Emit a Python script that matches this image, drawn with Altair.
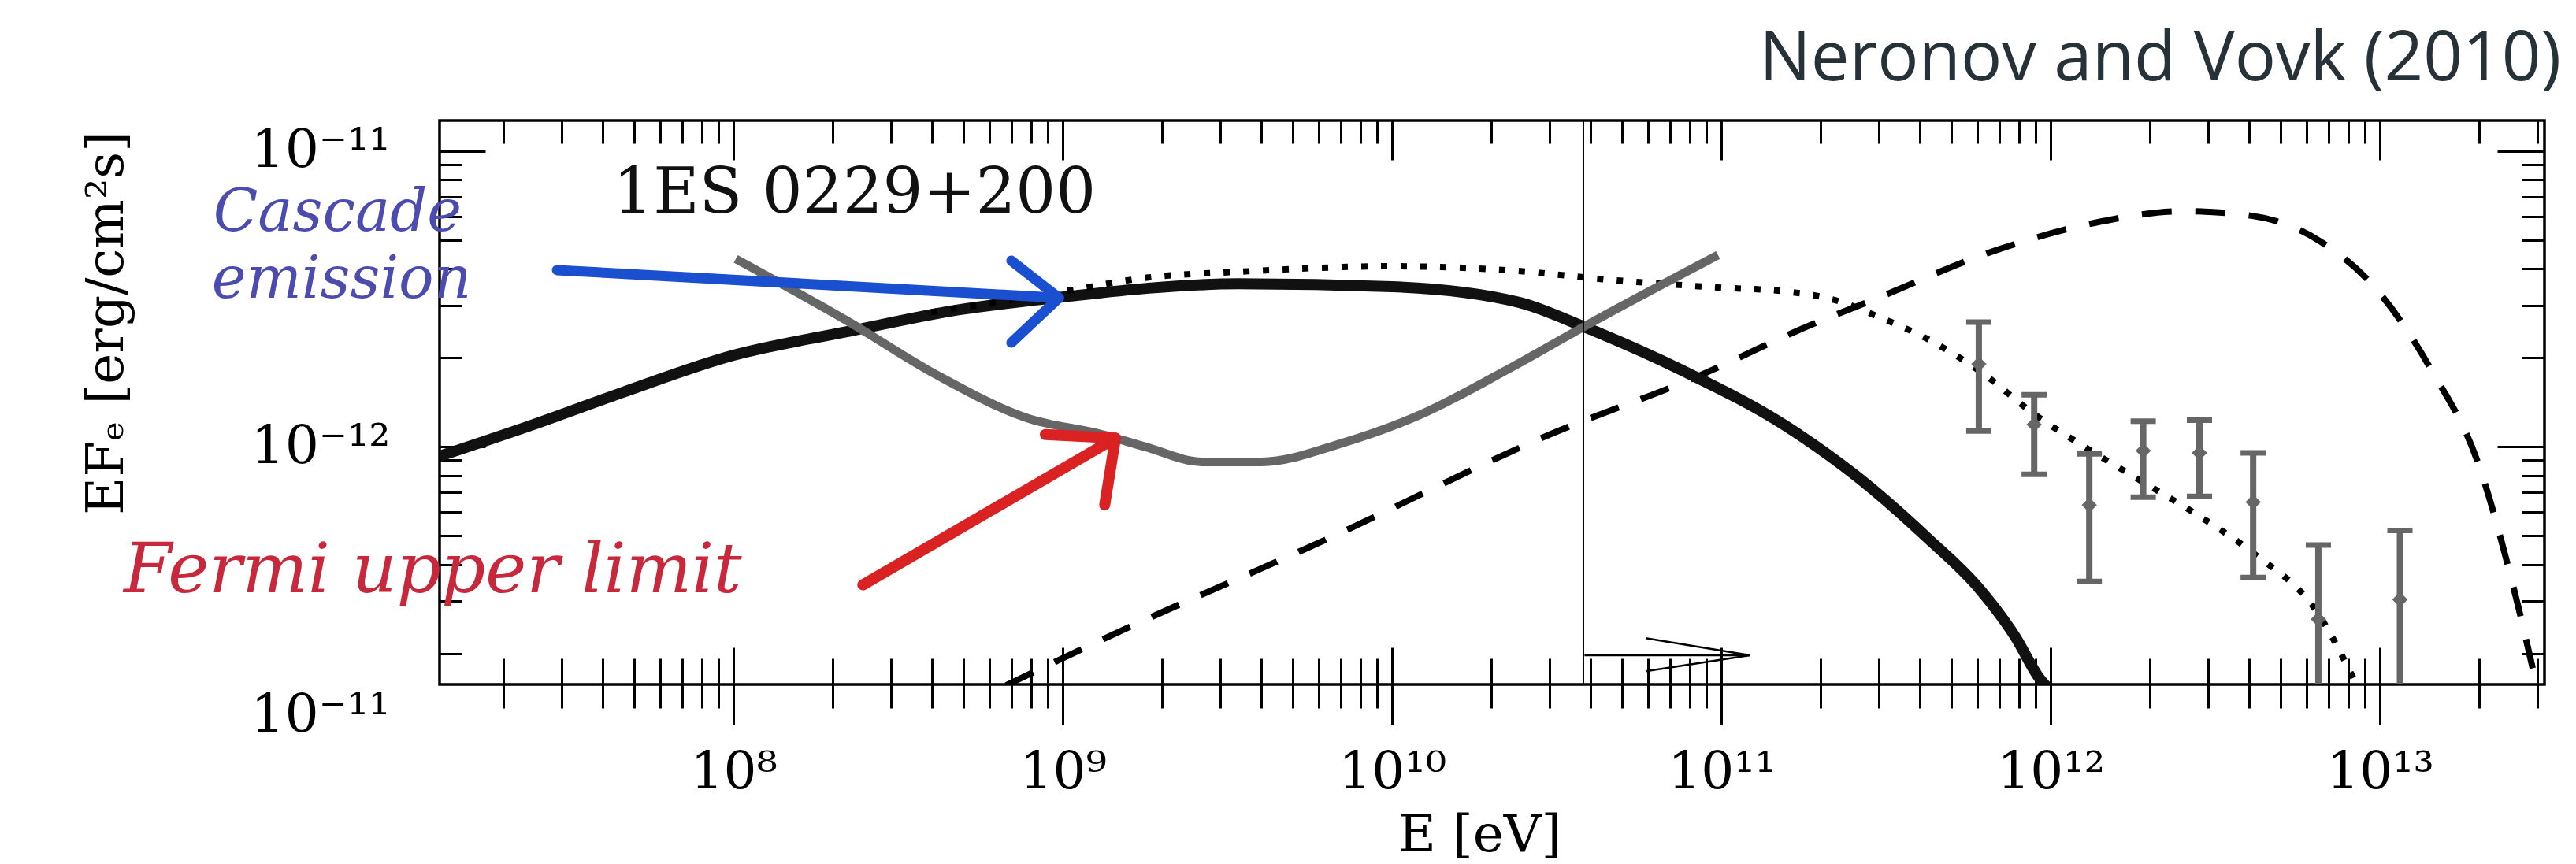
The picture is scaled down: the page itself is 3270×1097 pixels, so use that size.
import altair as alt
import pandas as pd

SERIF = "DejaVu Serif"

# ---------------- data (E in eV, EF_E in erg/cm^2/s) ----------------
# thick black solid curve (cascade emission)
solid_E = [1.28e7, 2.42e7, 4.55e7, 1.0e8, 2.21e8, 4.86e8, 1.0e9, 1.82e9, 3.42e9,
           1.0e10, 2.43e10, 3.78e10, 7.55e10, 1.58e11, 2.58e11, 4.21e11, 6.10e11,
           7.80e11, 9.27e11, 9.95e11]
solid_F = [9.29e-13, 1.18e-12, 1.52e-12, 2.04e-12, 2.45e-12, 2.91e-12, 3.21e-12, 3.44e-12, 3.56e-12,
           3.48e-12, 3.08e-12, 2.56e-12, 1.82e-12, 1.17e-12, 7.93e-13, 4.93e-13, 3.29e-13,
           2.28e-13, 1.64e-13, 1.50e-13]

# dotted curve
dotted_E = [3.98e8, 1.0e9, 1.82e9, 3.42e9, 1.0e10, 2.29e10, 4.62e10, 9.68e10, 1.58e11,
            2.29e11, 2.91e11, 4.21e11, 6.10e11, 8.91e11, 1.31e12, 1.91e12, 2.83e12,
            4.12e12, 6.50e12, 8.51e12]
dotted_F = [2.85e-12, 3.35e-12, 3.74e-12, 3.91e-12, 4.08e-12, 3.95e-12, 3.67e-12, 3.46e-12, 3.35e-12,
            3.10e-12, 2.79e-12, 2.32e-12, 1.80e-12, 1.29e-12, 9.77e-13, 7.59e-13, 5.82e-13,
            4.37e-13, 2.72e-13, 1.56e-13]

# dashed curve
dashed_E = [6.73e8, 1.32e9, 6.44e9, 3.13e10, 8.07e10, 1.88e11, 2.77e11, 7.14e11, 1.35e12,
            2.54e12, 4.07e12, 6.55e12, 9.89e12, 1.44e13, 1.98e13, 2.55e13, 2.99e13]
dashed_F = [1.56e-13, 2.23e-13, 4.91e-13, 1.12e-12, 1.69e-12, 2.59e-12, 3.08e-12, 4.70e-12, 5.71e-12,
            6.27e-12, 6.05e-12, 4.97e-12, 3.35e-12, 1.80e-12, 8.89e-13, 3.31e-13, 1.56e-13]

# grey Fermi upper limit
fermi_E = [1.016e8, 2.21e8, 4.14e8, 7.80e8, 1.32e9, 1.78e9, 2.65e9, 4.01e9, 7.06e9,
           1.21e10, 2.29e10, 3.78e10, 9.77e10]
fermi_F = [4.32e-12, 2.67e-12, 1.75e-12, 1.25e-12, 1.10e-12, 1.0e-12, 8.89e-13, 8.89e-13, 1.03e-12,
           1.28e-12, 1.85e-12, 2.53e-12, 4.45e-12]

# HESS points with error bars
hess_E = [6.05e11, 8.91e11, 1.31e12, 1.91e12, 2.83e12, 4.12e12, 6.50e12, 1.15e13]
hess_F = [1.905e-12, 1.19e-12, 6.35e-13, 9.70e-13, 9.53e-13, 6.50e-13, 2.61e-13, 3.04e-13]
hess_up = [2.64e-12, 1.50e-12, 9.46e-13, 1.22e-12, 1.23e-12, 9.53e-13, 4.65e-13, 5.21e-13]
hess_lo = [1.13e-12, 8.07e-13, 3.50e-13, 6.75e-13, 6.79e-13, 3.61e-13, 1.0e-14, 1.0e-14]
hess_locap = [True, True, True, True, True, True, False, False]

# thin vertical line
vline_E = [3.81e10]

# annotation arrows
blue_shaft_E = [2.91e7, 9.73e8]
blue_shaft_F = [3.96e-12, 3.19e-12]
blue_head_E = [6.98e8, 9.73e8, 6.98e8]
blue_head_F = [4.26e-12, 3.19e-12, 2.25e-12]

red_shaft_E = [2.47e8, 1.445e9]
red_shaft_F = [3.41e-13, 1.07e-12]
red_head_E = [8.85e8, 1.445e9, 1.34e9]
red_head_F = [1.10e-12, 1.07e-12, 6.35e-13]

black_shaft_E = [3.84e10, 1.22e11]
black_shaft_F = [1.97e-13, 1.97e-13]
black_head_E = [5.89e10, 1.22e11, 5.89e10]
black_head_F = [2.25e-13, 1.97e-13, 1.74e-13]

# axis ticks
x_major = [1e8, 1e9, 1e10, 1e11, 1e12, 1e13]
x_minor = [m * 10.0 ** e for e in range(7, 14) for m in range(2, 10)
           if 1.28e7 <= m * 10.0 ** e <= 3.16e13]
y_major = [1e-12, 1e-11]
y_minor = [m * 10.0 ** e for e in (-13, -12) for m in range(2, 10)]
x_labels = ["10⁷", "10⁸", "10⁹", "10¹⁰", "10¹¹", "10¹²", "10¹³"]
y_labels = ["10⁻¹³", "10⁻¹²", "10⁻¹¹"]

# text annotations
texts = pd.DataFrame({
    "E": [2.33e8, 6.27e6, 6.45e6, 1.22e7, 3.55e13, 9.06e6],
    "F": [6.19e-12, 5.38e-12, 3.20e-12, 3.21e-13, 1.74e-11, 1.23e-13],
    "t": ["1ES 0229+200", "Cascade", "emission", "Fermi upper limit",
          "Neronov and Vovk (2010)", "10⁻¹¹"],
})

# ---------------- scales & axes ----------------
xscale = alt.Scale(type="log", domain=[1.28e7, 3.16e13], nice=False)
yscale = alt.Scale(type="log", domain=[1.57e-13, 1.27e-11], nice=False)

x_label_expr = "[" + ",".join("'%s'" % s for s in x_labels) + "][round(log(datum.value)/LN10)-7]"
y_label_expr = "[" + ",".join("'%s'" % s for s in y_labels) + "][round(log(datum.value)/LN10)+13]"

common = dict(domain=False, grid=False, tickColor="black", tickWidth=3)

ax_bottom_major = alt.Axis(orient="bottom", offset=-47, values=x_major, tickSize=98,
                           labelExpr=x_label_expr, labelFont=SERIF, labelFontSize=66,
                           labelColor="black", labelPadding=28, labelFlush=False,
                           labelOverlap=False, labelLimit=600, title="E  [eV]", titleFont=SERIF,
                           titleFontSize=66, titleFontWeight="normal", titleColor="black",
                           titleX=1320, titleY=258, titleBaseline="alphabetic",
                           titleAlign="center", titleLimit=1000, **common)
ax_bottom_minor = alt.Axis(orient="bottom", offset=-33, values=x_minor, tickSize=63,
                           labels=False, title=None, **common)
ax_top_major = alt.Axis(orient="top", offset=-50, values=x_major, tickSize=50,
                        labels=False, title=None, **common)
ax_top_minor = alt.Axis(orient="top", offset=-29, values=x_minor, tickSize=29,
                        labels=False, title=None, **common)

ax_left_major = alt.Axis(orient="left", offset=-58, values=y_major, tickSize=58,
                         labelExpr=y_label_expr, labelFont=SERIF, labelFontSize=68,
                         labelColor="black", labelPadding=63, labelFlush=False,
                         labelOverlap=False, labelLimit=600, title="EFₑ [erg/cm²s]",
                         titleFont=SERIF, titleFontSize=66, titleFontWeight="normal",
                         titleColor="black", titleAngle=270, titleX=-481, titleY=257,
                         titleBaseline="middle", titleAlign="center", titleLimit=1000,
                         **common)
ax_left_minor = alt.Axis(orient="left", offset=-28, values=y_minor, tickSize=28,
                         labels=False, title=None, **common)
ax_right_major = alt.Axis(orient="right", offset=-60, values=y_major, tickSize=60,
                          labels=False, title=None, **common)
ax_right_minor = alt.Axis(orient="right", offset=-29, values=y_minor, tickSize=29,
                          labels=False, title=None, **common)


def X(field="E", axis=None):
    return alt.X(f"{field}:Q", scale=xscale, axis=axis)


def Y(field="F", axis=None):
    return alt.Y(f"{field}:Q", scale=yscale, axis=axis)


def curve(E, F):
    return pd.DataFrame({"E": E, "F": F, "i": list(range(len(E)))})


def arrow(shaftE, shaftF, headE, headF):
    return pd.DataFrame({
        "E": shaftE + headE,
        "F": shaftF + headF,
        "part": ["shaft"] * len(shaftE) + ["head"] * len(headE),
        "i": list(range(len(shaftE))) + list(range(len(headE))),
    })


dashed = alt.Chart(curve(dashed_E, dashed_F)).mark_line(
    color="black", strokeWidth=8, strokeDash=[38, 30], interpolate="monotone", clip=True
).encode(x=X(axis=ax_bottom_major), y=Y(axis=ax_left_major), order="i:Q")

solid = alt.Chart(curve(solid_E, solid_F)).mark_line(
    color="#111111", strokeWidth=14, interpolate="monotone", clip=True
).encode(x=X(axis=ax_bottom_minor), y=Y(axis=ax_left_minor), order="i:Q")

dotted = alt.Chart(curve(dotted_E, dotted_F)).mark_line(
    color="black", strokeWidth=8, strokeDash=[8, 17], interpolate="monotone", clip=True
).encode(x=X(axis=ax_top_major), y=Y(axis=ax_right_major), order="i:Q")

fermi = alt.Chart(curve(fermi_E, fermi_F)).mark_line(
    color="#666666", strokeWidth=11, interpolate="monotone", clip=True
).encode(x=X(axis=ax_top_minor), y=Y(axis=ax_right_minor), order="i:Q")

hess = pd.DataFrame({"E": hess_E, "F": hess_F, "up": hess_up, "lo": hess_lo,
                     "locap": hess_locap})

hess_bars = alt.Chart(hess).mark_rule(color="#666666", strokeWidth=8, clip=True).encode(
    x=X(), y=Y("up"), y2="lo:Q")
hess_upcaps = alt.Chart(hess).mark_tick(
    color="#666666", orient="horizontal", size=32, thickness=7, opacity=1
).encode(x=X(), y=Y("up"))
hess_locaps = alt.Chart(hess).transform_filter("datum.locap").mark_tick(
    color="#666666", orient="horizontal", size=32, thickness=7, opacity=1
).encode(x=X(), y=Y("lo"))
hess_pts = alt.Chart(hess).mark_point(
    shape="diamond", filled=True, size=380, color="#666666", opacity=1
).encode(x=X(), y=Y())

vline = alt.Chart(pd.DataFrame({"E": vline_E})).mark_rule(
    color="black", strokeWidth=2).encode(x=X())

black_arrow = alt.Chart(arrow(black_shaft_E, black_shaft_F, black_head_E, black_head_F)).mark_line(
    color="black", strokeWidth=2.5
).encode(x=X(), y=Y(), detail="part:N", order="i:Q")

blue_arrow = alt.Chart(arrow(blue_shaft_E, blue_shaft_F, blue_head_E, blue_head_F)).mark_line(
    color="#1A4FD0", strokeWidth=13, strokeCap="round", strokeJoin="round"
).encode(x=X(), y=Y(), detail="part:N", order="i:Q")

red_arrow = alt.Chart(arrow(red_shaft_E, red_shaft_F, red_head_E, red_head_F)).mark_line(
    color="#DA2222", strokeWidth=14, strokeCap="round", strokeJoin="round"
).encode(x=X(), y=Y(), detail="part:N", order="i:Q")

t_src = alt.Chart(texts).transform_filter("datum.t == '1ES 0229+200'").mark_text(
    font=SERIF, fontSize=80, color="#111111", align="center", baseline="alphabetic"
).encode(x=X(), y=Y(), text="t:N")

t_cascade = alt.Chart(texts).transform_filter(
    "datum.t == 'Cascade' || datum.t == 'emission'").mark_text(
    font=SERIF, fontStyle="italic", fontSize=74, color="#4B4BB0", align="center",
    baseline="alphabetic"
).encode(x=X(), y=Y(), text="t:N")

t_fermi = alt.Chart(texts).transform_filter("datum.t == 'Fermi upper limit'").mark_text(
    font=SERIF, fontStyle="italic", fontSize=88, color="#C8283C", align="center",
    baseline="alphabetic"
).encode(x=X(), y=Y(), text="t:N")

t_ref = alt.Chart(texts).transform_filter("datum.t == 'Neronov and Vovk (2010)'").mark_text(
    font="Open Sans", fontSize=87, color="#263238", align="right", baseline="alphabetic"
).encode(x=X(), y=Y(), text="t:N")

t_bottom = alt.Chart(texts).transform_filter("datum.t == '10⁻¹¹'").mark_text(
    font=SERIF, fontSize=68, color="black", align="right", baseline="middle"
).encode(x=X(), y=Y(), text="t:N")

chart = alt.layer(
    dashed, solid, dotted, fermi, hess_bars, hess_upcaps, hess_locaps, hess_pts,
    vline, black_arrow, blue_arrow, red_arrow,
    t_src, t_cascade, t_fermi, t_ref, t_bottom,
).resolve_axis(
    x="independent", y="independent"
).properties(
    width=2672, height=716,
    autosize=alt.AutoSizeParams(type="none"),
    padding={"left": 550, "top": 145, "right": 32, "bottom": 226},
    background="white",
).configure_view(
    stroke="black", strokeWidth=3.5
)

chart.save("out.html", embed_options={"renderer": "svg", "actions": False})
